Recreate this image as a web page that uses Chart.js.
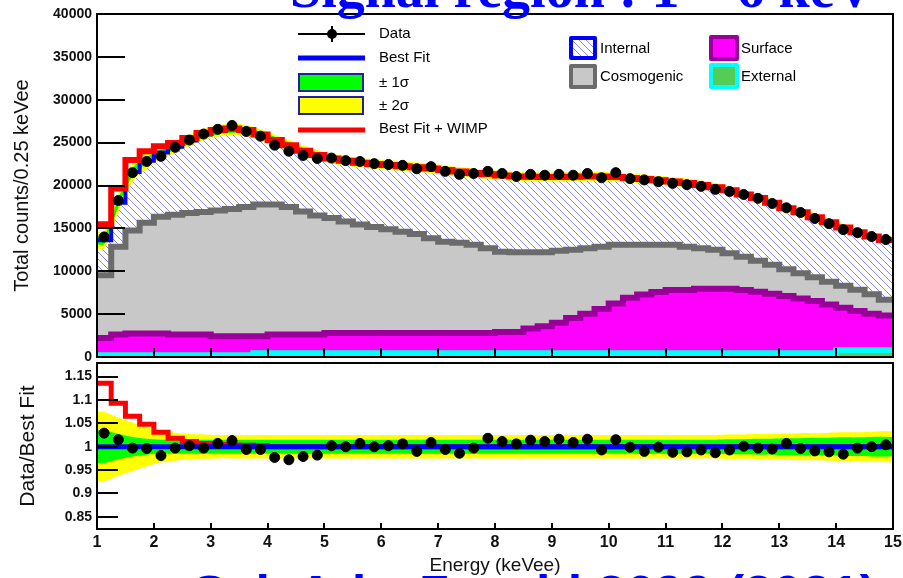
<!DOCTYPE html>
<html>
<head>
<meta charset="utf-8">
<script src="https://cdn.jsdelivr.net/npm/chart.js@4.4.1/dist/chart.umd.min.js"></script>
<style>
  html, body { margin: 0; padding: 0; background: #fff; width: 903px; height: 578px; overflow: hidden; position: relative; }
  canvas { position: absolute; left: 0; }
  #topPanel { top: 0; }
  #ratioPanel { top: 349px; }
  .banner { position: absolute; color: #0000ff; font-weight: bold; white-space: nowrap; line-height: 1; }
  #title { font-family: 'Liberation Serif', serif; font-size: 56px; left: 290px; top: -40px; }
  #ref { font-family: 'Liberation Sans', Arial, sans-serif; font-size: 52px; left: 192px; top: 568px; }
</style>
</head>
<body>
<canvas id="topPanel" width="903" height="371"></canvas>
<canvas id="ratioPanel" width="903" height="229"></canvas>
<div class="banner" id="title">Signal region : 1 ~ 6 keV</div>
<div class="banner" id="ref">Sci. Adv. 7, eabk2699 (2021)</div>

<script>
// energy bins of 0.25 keVee, centres
const binCenters = [1.125, 1.375, 1.625, 1.875, 2.125, 2.375, 2.625, 2.875, 3.125, 3.375,
  3.625, 3.875, 4.125, 4.375, 4.625, 4.875, 5.125, 5.375, 5.625, 5.875,
  6.125, 6.375, 6.625, 6.875, 7.125, 7.375, 7.625, 7.875, 8.125, 8.375,
  8.625, 8.875, 9.125, 9.375, 9.625, 9.875, 10.125, 10.375, 10.625, 10.875,
  11.125, 11.375, 11.625, 11.875, 12.125, 12.375, 12.625, 12.875, 13.125, 13.375,
  13.625, 13.875, 14.125, 14.375, 14.625, 14.875];

const dataCounts = [14000, 18250, 21500, 22800, 23400, 24450, 25300, 26000, 26550, 27000,
  26300, 25750, 24700, 24000, 23500, 23150, 23200, 22900, 22800, 22550,
  22450, 22350, 21950, 22200, 21650, 21300, 21400, 21650, 21400, 21050,
  21300, 21200, 21300, 21200, 21400, 20900, 21500, 20800, 20650, 20450,
  20250, 20100, 19900, 19550, 19300, 18950, 18500, 17900, 17400, 16850,
  16150, 15550, 14850, 14500, 14050, 13700];

const bestFit = [13620, 17980, 21560, 22890, 23850, 24520, 25250, 25950, 26350, 26550,
  26400, 25900, 25300, 24700, 24050, 23550, 23150, 22880, 22650, 22520,
  22380, 22250, 22130, 21990, 21800, 21620, 21460, 21300, 21170, 21050,
  21010, 20990, 20990, 21010, 21040, 21060, 21000, 20880, 20760, 20600,
  20460, 20300, 20060, 19800, 19440, 18960, 18540, 18000, 17350, 16880,
  16300, 15720, 15100, 14560, 14060, 13650];

const wimpCounts = [1850, 1670, 1400, 1100, 740, 440, 280, 180, 130, 100,
  75, 50, 0, 0, 0, 0, 0, 0, 0, 0,
  0, 0, 0, 0, 0, 0, 0, 0, 0, 0,
  0, 0, 0, 0, 0, 0, 0, 0, 0, 0,
  0, 0, 0, 0, 0, 0, 0, 0, 0, 0,
  0, 0, 0, 0, 0, 0];

// stacked background components (top edge of each layer)
const cosmogenicTop = [9530, 12870, 14740, 15670, 16370, 16600, 16780, 16900, 17080, 17250,
  17490, 17780, 17780, 17490, 16960, 16490, 16200, 15790, 15440, 15150,
  14910, 14620, 14330, 13860, 13450, 13330, 13080, 12690, 12280, 12220,
  12220, 12220, 12400, 12510, 12690, 12870, 13100, 13100, 13100, 13100,
  13100, 12870, 12690, 12510, 12100, 11700, 11230, 10760, 10230, 9770,
  9300, 8770, 8300, 7840, 7310, 6670];

const surfaceTop = [2220, 2610, 2730, 2730, 2730, 2610, 2610, 2610, 2420, 2420,
  2420, 2420, 2610, 2610, 2610, 2610, 2800, 2800, 2800, 2800,
  2800, 2800, 2800, 2800, 2800, 2800, 2800, 2800, 2920, 2920,
  3310, 3590, 3980, 4560, 5030, 5610, 6230, 6900, 7290, 7570,
  7800, 7800, 7950, 7950, 7950, 7800, 7600, 7370, 7100, 6820,
  6520, 6120, 5730, 5350, 5030, 4830];

const externalTop = [200, 200, 200, 200, 200, 200, 200, 200, 200, 200,
  200, 450, 450, 450, 450, 450, 450, 450, 450, 450,
  450, 450, 450, 450, 450, 450, 450, 450, 450, 450,
  450, 450, 450, 450, 450, 450, 450, 450, 450, 450,
  450, 450, 450, 450, 450, 450, 450, 450, 450, 450,
  450, 450, 800, 800, 800, 800];

const dataRatio = [1.029, 1.015, 0.997, 0.996, 0.981, 0.997, 1.002, 0.997, 1.007, 1.013,
  0.994, 0.994, 0.977, 0.972, 0.979, 0.982, 1.002, 1.000, 1.007, 1.000,
  1.002, 1.006, 0.990, 1.009, 0.994, 0.986, 0.997, 1.018, 1.011, 1.006,
  1.014, 1.011, 1.016, 1.009, 1.016, 0.993, 1.015, 0.999, 0.990, 0.999,
  0.988, 0.989, 0.993, 0.987, 0.993, 1.001, 0.997, 0.995, 1.007, 0.996,
  0.991, 0.989, 0.984, 0.997, 1.000, 1.004];

// relative half widths of the uncertainty bands
const sigma1 = [0.035, 0.027, 0.021, 0.017, 0.015, 0.015, 0.015, 0.015, 0.015, 0.015,
  0.015, 0.015, 0.015, 0.015, 0.015, 0.015, 0.015, 0.015, 0.015, 0.015,
  0.015, 0.015, 0.015, 0.015, 0.015, 0.015, 0.015, 0.015, 0.015, 0.015,
  0.015, 0.015, 0.015, 0.015, 0.015, 0.015, 0.015, 0.015, 0.015, 0.015,
  0.015, 0.015, 0.015, 0.015, 0.016, 0.016, 0.017, 0.017, 0.018, 0.018,
  0.019, 0.019, 0.020, 0.020, 0.021, 0.021];

const sigma2 = [0.074, 0.062, 0.052, 0.042, 0.034, 0.030, 0.027, 0.026, 0.025, 0.025,
  0.025, 0.025, 0.025, 0.025, 0.025, 0.025, 0.025, 0.025, 0.025, 0.025,
  0.025, 0.025, 0.025, 0.025, 0.025, 0.025, 0.025, 0.025, 0.025, 0.025,
  0.025, 0.025, 0.025, 0.025, 0.025, 0.025, 0.025, 0.025, 0.025, 0.025,
  0.025, 0.025, 0.025, 0.025, 0.026, 0.026, 0.027, 0.027, 0.028, 0.029,
  0.029, 0.030, 0.031, 0.031, 0.032, 0.033];

const countTicks = [0, 5000, 10000, 15000, 20000, 25000, 30000, 35000, 40000];
const ratioTicks = [0.85, 0.9, 0.95, 1, 1.05, 1.1, 1.15];
const energyTicks = [1, 2, 3, 4, 5, 6, 7, 8, 9, 10, 11, 12, 13, 14, 15];

const HALF_BIN = 0.125;
const last = binCenters.length - 1;

// histogram outline: one point per lower bin edge plus the upper edge of the last bin
function histo(values) {
  const pts = values.map((v, i) => ({ x: binCenters[i] - HALF_BIN, y: v }));
  pts.push({ x: binCenters[last] + HALF_BIN, y: values[last] });
  return pts;
}
// smooth band edge running across the whole range
function bandEdge(values) {
  const pts = values.map((v, i) => ({ x: binCenters[i], y: v }));
  pts.unshift({ x: binCenters[0] - HALF_BIN, y: values[0] });
  pts.push({ x: binCenters[last] + HALF_BIN, y: values[last] });
  return pts;
}
const points = values => values.map((v, i) => ({ x: binCenters[i], y: v }));

function makeHatch() {
  const c = document.createElement('canvas');
  c.width = 7; c.height = 7;
  const g = c.getContext('2d');
  g.fillStyle = '#fff';
  g.fillRect(0, 0, 7, 7);
  g.strokeStyle = '#8c8cf2';
  g.lineWidth = 1;
  g.beginPath();
  g.moveTo(-1, -1); g.lineTo(8, 8);
  g.moveTo(-1, 6); g.lineTo(1, 8);
  g.moveTo(6, -1); g.lineTo(8, 1);
  g.stroke();
  return g.createPattern(c, 'repeat');
}
const hatch = makeHatch();

const withWimp = bestFit.map((b, i) => b + wimpCounts[i]);

const SANS = "'Liberation Sans', Arial, sans-serif";

// ROOT style frame: box plus inward ticks
const rootFrame = {
  id: 'rootFrame',
  afterDatasetsDraw(chart, args, opts) {
    const { ctx, chartArea: a, scales: { x, y } } = chart;
    ctx.save();
    ctx.strokeStyle = '#000';
    ctx.lineWidth = 2;
    ctx.beginPath();
    opts.yTicks.forEach(v => {
      const py = Math.round(y.getPixelForValue(v));
      ctx.moveTo(a.left, py); ctx.lineTo(a.left + opts.yLen, py);
    });
    opts.xTicks.forEach(v => {
      const px = Math.round(x.getPixelForValue(v));
      ctx.moveTo(px, a.bottom); ctx.lineTo(px, a.bottom - opts.xLen);
    });
    ctx.stroke();
    ctx.strokeRect(a.left, a.top, a.right - a.left, a.bottom - a.top);
    ctx.restore();
    if (opts.legend) drawLegend(ctx);
  }
};

function drawLegend(ctx) {
  ctx.save();
  ctx.font = '15px ' + SANS;
  ctx.textBaseline = 'middle';

  // Data
  ctx.strokeStyle = '#000';
  ctx.lineWidth = 2;
  ctx.beginPath();
  ctx.moveTo(298, 34); ctx.lineTo(365, 34);
  ctx.moveTo(332, 26); ctx.lineTo(332, 42);
  ctx.stroke();
  ctx.beginPath(); ctx.arc(332, 34, 5, 0, Math.PI * 2); ctx.fillStyle = '#000'; ctx.fill();
  // Best Fit / Best Fit + WIMP
  ctx.lineWidth = 5;
  ctx.strokeStyle = '#0000ff';
  ctx.beginPath(); ctx.moveTo(298, 58); ctx.lineTo(365, 58); ctx.stroke();
  ctx.strokeStyle = '#ff0000';
  ctx.beginPath(); ctx.moveTo(298, 130); ctx.lineTo(365, 130); ctx.stroke();
  // bands
  ctx.lineWidth = 2;
  ctx.strokeStyle = '#2020a0';
  ctx.fillStyle = '#00ff00'; ctx.fillRect(299, 74, 64, 17); ctx.strokeRect(299, 74, 64, 17);
  ctx.fillStyle = '#ffff00'; ctx.fillRect(299, 97, 64, 17); ctx.strokeRect(299, 97, 64, 17);

  ctx.fillStyle = '#000';
  ctx.fillText('Data', 379, 34);
  ctx.fillText('Best Fit', 379, 58);
  ctx.fillText('\u00b1 1\u03c3', 379, 83);
  ctx.fillText('\u00b1 2\u03c3', 379, 106);
  ctx.fillText('Best Fit + WIMP', 379, 129);

  // components
  ctx.lineWidth = 4;
  ctx.lineJoin = 'round';
  const box = (x, y, w, h, fill, stroke) => {
    ctx.fillStyle = fill; ctx.fillRect(x, y, w, h);
    ctx.strokeStyle = stroke; ctx.strokeRect(x, y, w, h);
  };
  box(571, 38, 24, 20, hatch, '#0000ff');
  box(571, 66, 24, 21, '#c8c8c8', '#6b6b6b');
  box(711, 37, 26, 22, '#ff00ff', '#990099');
  box(711, 65, 26, 22, '#55cc55', '#00ffff');
  ctx.fillStyle = '#000';
  ctx.fillText('Internal', 600, 49);
  ctx.fillText('Cosmogenic', 600, 77);
  ctx.fillText('Surface', 741, 49);
  ctx.fillText('External', 741, 77);
  ctx.restore();
}

const lineBase = { pointRadius: 0, fill: false, clip: 0 };

// ---------- top panel: counts ----------
new Chart(document.getElementById('topPanel'), {
  type: 'line',
  data: {
    datasets: [
      { ...lineBase, label: 'Data', data: points(dataCounts), showLine: false, pointRadius: 5,
        pointBackgroundColor: '#000', pointBorderColor: '#000', borderColor: '#000', order: 0 },
      { ...lineBase, label: 'Best Fit + WIMP', data: histo(withWimp), stepped: true,
        borderColor: '#ff0000', borderWidth: 6, order: 1 },
      { ...lineBase, label: 'Best Fit', data: histo(bestFit), stepped: true,
        borderColor: '#0000ff', borderWidth: 4, order: 2 },
      { ...lineBase, label: '+1s', data: bandEdge(bestFit.map((b, i) => b * (1 + sigma1[i]))),
        fill: '+1', backgroundColor: '#00ff00', borderWidth: 0, tension: 0.4, order: 3 },
      { ...lineBase, label: '-1s', data: bandEdge(bestFit.map((b, i) => b * (1 - sigma1[i]))),
        borderWidth: 0, tension: 0.4, order: 3 },
      { ...lineBase, label: '+2s', data: bandEdge(bestFit.map((b, i) => b * (1 + sigma2[i]))),
        fill: '+1', backgroundColor: '#ffff00', borderWidth: 0, tension: 0.4, order: 4 },
      { ...lineBase, label: '-2s', data: bandEdge(bestFit.map((b, i) => b * (1 - sigma2[i]))),
        borderWidth: 0, tension: 0.4, order: 4 },
      { ...lineBase, label: 'External', data: histo(externalTop), stepped: true, fill: 'origin',
        backgroundColor: '#55cc55', borderColor: '#00ffff', borderWidth: 6, order: 5 },
      { ...lineBase, label: 'Surface', data: histo(surfaceTop), stepped: true, fill: 'origin',
        backgroundColor: '#ff00ff', borderColor: '#990099', borderWidth: 6, order: 6 },
      { ...lineBase, label: 'Cosmogenic', data: histo(cosmogenicTop), stepped: true, fill: 'origin',
        backgroundColor: '#c8c8c8', borderColor: '#6b6b6b', borderWidth: 6, order: 7 },
      { ...lineBase, label: 'Internal', data: histo(bestFit), stepped: true, fill: 'origin',
        backgroundColor: hatch, borderWidth: 0, order: 8 }
    ]
  },
  options: {
    responsive: false,
    animation: false,
    events: [],
    layout: { padding: { top: 14, right: 10, bottom: 14, left: 0 } },
    plugins: {
      legend: { display: false },
      tooltip: { enabled: false },
      rootFrame: { yTicks: countTicks, yLen: 28, xTicks: energyTicks.slice(1, -1), xLen: 9, legend: true }
    },
    scales: {
      x: { type: 'linear', min: 1, max: 15, display: false },
      y: {
        min: 0, max: 40000,
        afterBuildTicks: s => { s.ticks = countTicks.map(v => ({ value: v })); },
        afterFit: s => { s.width = 97; },
        grid: { display: false },
        border: { display: false },
        ticks: { padding: -3, color: '#111', font: { family: SANS, size: 14, weight: 'bold' }, callback: v => String(v) },
        title: { display: true, text: 'Total counts/0.25 keVee', color: '#111',
                 font: { family: SANS, size: 20 }, padding: { top: 10, bottom: 0 } }
      }
    }
  },
  plugins: [rootFrame]
});

// ---------- bottom panel: data / best fit ----------
const fitRatio = bestFit.map(() => 1);
const wimpRatio = bestFit.map((b, i) => withWimp[i] / b);

new Chart(document.getElementById('ratioPanel'), {
  type: 'line',
  data: {
    datasets: [
      { ...lineBase, label: 'Data', data: points(dataRatio), showLine: false, pointRadius: 5,
        pointBackgroundColor: '#000', pointBorderColor: '#000', borderColor: '#000', order: 0 },
      { ...lineBase, label: 'Best Fit', data: bandEdge(fitRatio),
        borderColor: '#0000ff', borderWidth: 5, order: 1 },
      { ...lineBase, label: 'Best Fit + WIMP', data: histo(wimpRatio), stepped: true,
        borderColor: '#ff0000', borderWidth: 5, order: 2 },
      { ...lineBase, label: '+1s', data: bandEdge(sigma1.map(s => 1 + s)),
        fill: '+1', backgroundColor: '#00ff00', borderWidth: 0, tension: 0.4, order: 3 },
      { ...lineBase, label: '-1s', data: bandEdge(sigma1.map(s => 1 - s)),
        borderWidth: 0, tension: 0.4, order: 3 },
      { ...lineBase, label: '+2s', data: bandEdge(sigma2.map(s => 1 + s)),
        fill: '+1', backgroundColor: '#ffff00', borderWidth: 0, tension: 0.4, order: 4 },
      { ...lineBase, label: '-2s', data: bandEdge(sigma2.map(s => 1 - s)),
        borderWidth: 0, tension: 0.4, order: 4 }
    ]
  },
  options: {
    responsive: false,
    animation: false,
    events: [],
    layout: { padding: { top: 14, right: 10, bottom: 0, left: 0 } },
    plugins: {
      legend: { display: false },
      tooltip: { enabled: false },
      rootFrame: { yTicks: ratioTicks, yLen: 21, xTicks: energyTicks.slice(1, -1), xLen: 6 }
    },
    scales: {
      x: {
        type: 'linear', min: 1, max: 15,
        afterBuildTicks: s => { s.ticks = energyTicks.map(v => ({ value: v })); },
        afterFit: s => { s.height = 49; },
        grid: { display: false },
        border: { display: false },
        ticks: { padding: -4, color: '#111', maxRotation: 0, autoSkip: false,
                 font: { family: SANS, size: 16, weight: 'bold' }, callback: v => String(v) },
        title: { display: true, text: 'Energy (keVee)', color: '#111',
                 font: { family: SANS, size: 19 }, padding: { top: 0, bottom: 1 } }
      },
      y: {
        min: 0.824, max: 1.179,
        afterBuildTicks: s => { s.ticks = ratioTicks.map(v => ({ value: v })); },
        afterFit: s => { s.width = 97; },
        grid: { display: false },
        border: { display: false },
        ticks: { padding: -3, color: '#111', font: { family: SANS, size: 14, weight: 'bold' }, callback: v => String(v) },
        title: { display: true, text: 'Data/Best Fit', color: '#111',
                 font: { family: SANS, size: 21 }, padding: { top: 16, bottom: 0 } }
      }
    }
  },
  plugins: [rootFrame]
});
</script>
</body>
</html>
